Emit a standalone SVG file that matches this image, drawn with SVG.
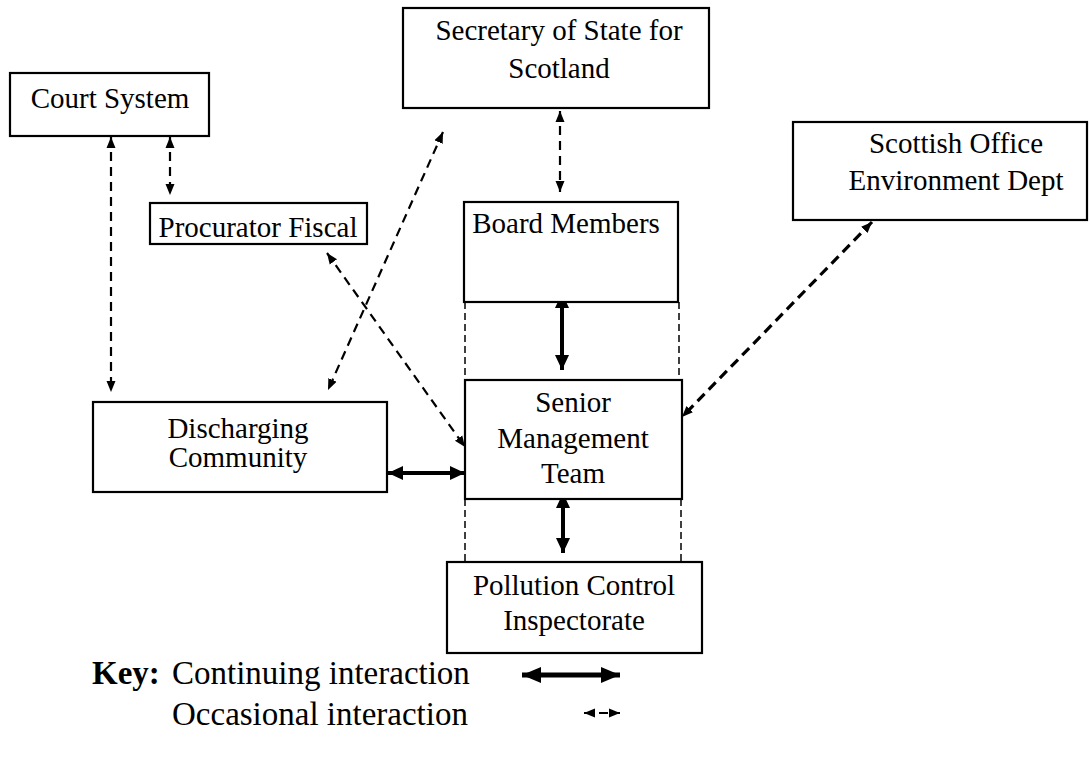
<svg xmlns="http://www.w3.org/2000/svg" width="1090" height="772" viewBox="0 0 1090 772">
  <style>
    .box { fill: #fff; stroke: #000; stroke-width: 2.2; }
    .lbl { font-family: "Liberation Serif", "Times New Roman", serif; font-size: 29px; fill: #000; text-anchor: middle; }
    .key { font-family: "Liberation Serif", "Times New Roman", serif; font-size: 33px; fill: #000; }
    .solid { stroke: #000; stroke-width: 4; fill: none; marker-start: url(#headThick); marker-end: url(#headThick); }
    .dash { stroke: #000; stroke-width: 2.2; fill: none; stroke-dasharray: 9 6; marker-start: url(#headThin); marker-end: url(#headThin); }
    .dashBold { stroke: #000; stroke-width: 3.2; fill: none; stroke-dasharray: 10 6; marker-start: url(#headThin); marker-end: url(#headThin); }
    .guide { stroke: #000; stroke-width: 1.5; fill: none; stroke-dasharray: 7 4; }
  </style>
  <defs>
    <marker id="headThick" markerUnits="userSpaceOnUse" markerWidth="16" markerHeight="16" refX="15" refY="8" orient="auto-start-reverse" viewBox="0 0 16 16">
      <path d="M0,1 L15,8 L0,15 z" fill="#000"/>
    </marker>
    <marker id="headKey" markerUnits="userSpaceOnUse" markerWidth="20" markerHeight="20" refX="19" refY="10" orient="auto-start-reverse" viewBox="0 0 20 20">
      <path d="M0,2 L19,10 L0,18 z" fill="#000"/>
    </marker>
    <marker id="headThin" markerUnits="userSpaceOnUse" markerWidth="12" markerHeight="12" refX="11" refY="6" orient="auto-start-reverse" viewBox="0 0 12 12">
      <path d="M0,1.5 L11,6 L0,10.5 z" fill="#000"/>
    </marker>
  </defs>

  <rect width="1090" height="772" fill="#fff"/>

  <!-- connectors -->
  <g id="connectors">
    <line class="dash" x1="111" y1="137" x2="111" y2="392"/>
    <line class="dash" x1="170" y1="137" x2="170" y2="195"/>
    <line class="dash" x1="560" y1="111" x2="560" y2="192"/>
    <line class="dash" x1="443" y1="132" x2="328" y2="390"/>
    <line class="dash" x1="327" y1="253" x2="465" y2="447"/>
    <line class="dashBold" x1="872" y1="222" x2="682" y2="417"/>
    <line class="solid" x1="562" y1="293" x2="562" y2="370"/>
    <line class="solid" x1="563" y1="493" x2="563" y2="553"/>
    <line class="solid" x1="388" y1="473" x2="465" y2="473"/>
    <!-- dashed sides joining the organisation column -->
    <line class="guide" x1="465" y1="302" x2="465" y2="380"/>
    <line class="guide" x1="679" y1="302" x2="679" y2="380"/>
    <line class="guide" x1="465" y1="499" x2="465" y2="562"/>
    <line class="guide" x1="681" y1="499" x2="681" y2="562"/>
  </g>

  <g id="court-system">
    <rect class="box" x="10" y="73" width="199" height="63"/>
    <text class="lbl" x="110" y="108">Court System</text>
  </g>

  <g id="procurator-fiscal">
    <rect class="box" x="150" y="203" width="217" height="41"/>
    <text class="lbl" x="258" y="237">Procurator Fiscal</text>
  </g>

  <g id="secretary-of-state">
    <rect class="box" x="403" y="8" width="306" height="100"/>
    <text class="lbl" x="559" y="40">Secretary of State for</text>
    <text class="lbl" x="559" y="78">Scotland</text>
  </g>

  <g id="scottish-office">
    <rect class="box" x="793" y="122" width="294" height="98"/>
    <text class="lbl" x="956" y="153">Scottish Office</text>
    <text class="lbl" x="956" y="190">Environment Dept</text>
  </g>

  <g id="board-members">
    <rect class="box" x="464" y="202" width="214" height="100"/>
    <text class="lbl" x="566" y="233">Board Members</text>
  </g>

  <g id="senior-management">
    <rect class="box" x="465" y="380" width="217" height="119"/>
    <text class="lbl" x="573" y="412">Senior</text>
    <text class="lbl" x="573" y="448">Management</text>
    <text class="lbl" x="573" y="483">Team</text>
  </g>

  <g id="discharging-community">
    <rect class="box" x="93" y="402" width="294" height="90"/>
    <text class="lbl" x="238" y="438">Discharging</text>
    <text class="lbl" x="238" y="467">Community</text>
  </g>

  <g id="pollution-control">
    <rect class="box" x="447" y="562" width="255" height="91"/>
    <text class="lbl" x="574" y="595">Pollution Control</text>
    <text class="lbl" x="574" y="630">Inspectorate</text>
  </g>

  <!-- legend -->
  <g id="key">
    <text class="key" x="92" y="684" font-weight="bold">Key:</text>
    <text class="key" x="172" y="684">Continuing interaction</text>
    <line x1="522" y1="675" x2="620" y2="675" stroke="#000" stroke-width="5" marker-start="url(#headKey)" marker-end="url(#headKey)"/>
    <text class="key" x="172" y="725">Occasional interaction</text>
    <line class="dash" x1="584" y1="713" x2="620" y2="713" stroke-dasharray="5 3"/>
  </g>
</svg>
